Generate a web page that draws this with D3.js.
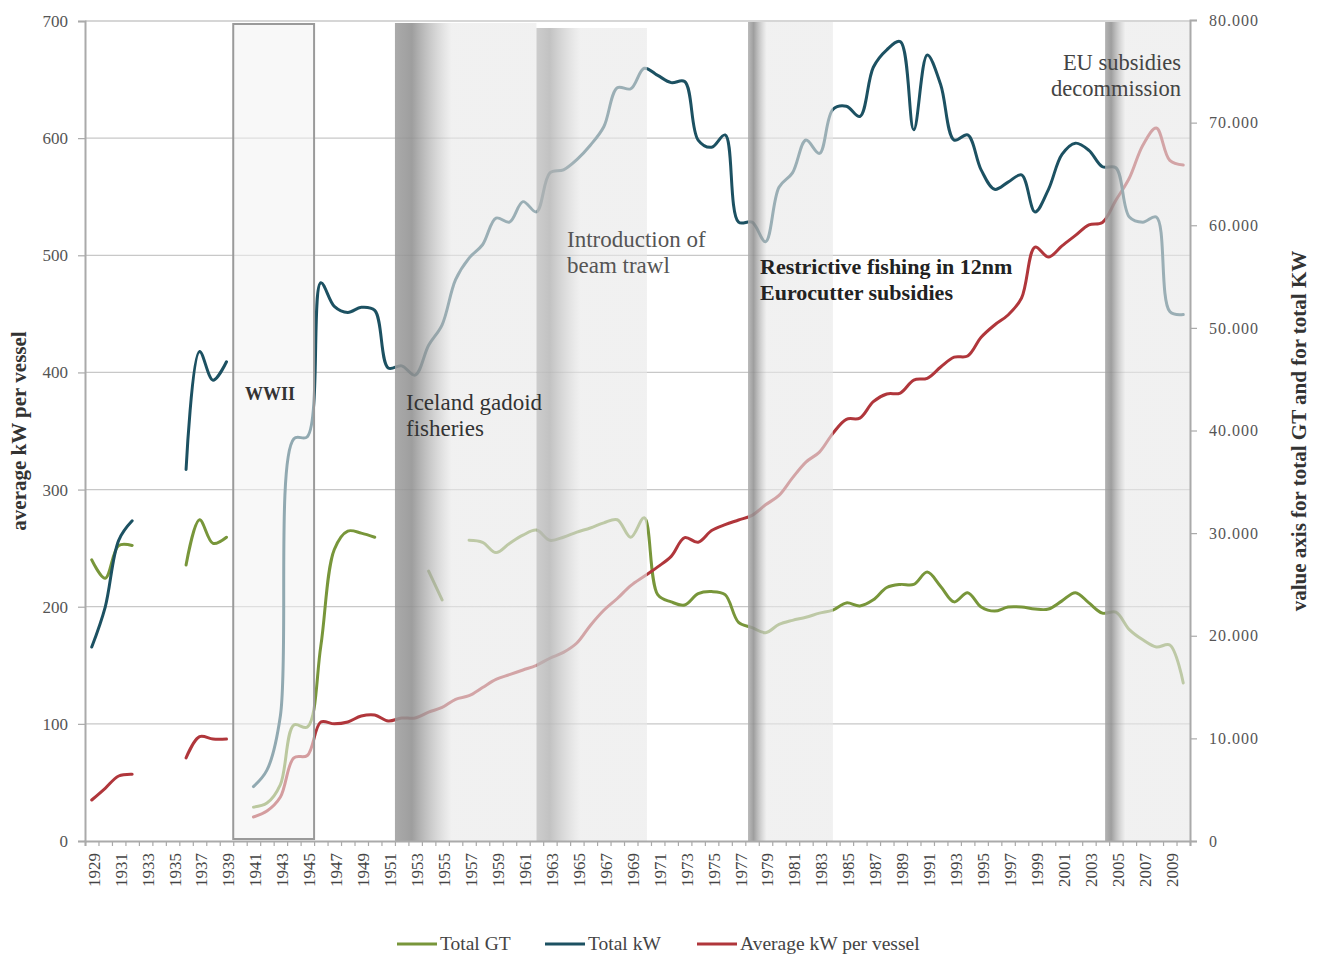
<!DOCTYPE html>
<html>
<head>
<meta charset="utf-8">
<script src="https://cdn.jsdelivr.net/npm/d3@7"></script>
<style>
body { margin: 0; background: #fff; }
svg text { font-family: "Liberation Serif", "DejaVu Serif", serif; }
</style>
</head>
<body>
<div id="chart"></div>
<script>
// years 1929 - 2010, null = no data
var years = d3.range(1929, 2011);

// total GT, thousands (right axis)
var totalGT = [27.4, 25.6, 28.8, 28.8, null, null, null, 26.9, 31.3, 29.0,
  29.6, null, 3.3, 3.7, 5.5, 11.3, 11.1, 19.0, 28.4, 30.2,
  30.0, 29.6, null, null, null, 26.3, 23.5, null, 29.3, 29.1,
  28.1, 29.0, 29.8, 30.3, 29.3, 29.6, 30.1, 30.5, 31.0, 31.3,
  29.6, 31.5, 24.0, 23.3, 23.0, 24.1, 24.3, 24.0, 21.3, 20.8,
  20.3, 21.1, 21.5, 21.8, 22.2, 22.5, 23.2, 22.9, 23.5, 24.7,
  25.0, 25.0, 26.2, 24.8, 23.3, 24.2, 22.8, 22.4, 22.8, 22.8,
  22.6, 22.6, 23.4, 24.2, 23.2, 22.2, 22.3, 20.6, 19.6, 18.9,
  19.1, 15.4];

// total kW, thousands (right axis)
var totalKW = [18.9, 22.8, 29.3, 31.2, null, null, null, 36.2, 47.7, 44.9,
  46.7, null, 5.3, 6.9, 12.2, 39.2, 39.4, 54.4, 52.1, 51.5,
  52.0, 51.7, 46.1, 46.3, 45.4, 48.3, 50.3, 54.7, 56.8, 58.1,
  60.7, 60.3, 62.3, 61.3, 65.1, 65.4, 66.4, 67.8, 69.6, 73.4,
  73.3, 75.3, 74.6, 73.9, 74.0, 68.3, 67.6, 68.8, 60.3, 60.3,
  58.4, 63.7, 65.1, 68.3, 67.0, 71.3, 71.6, 70.6, 75.4, 77.1,
  77.9, 69.3, 76.6, 73.7, 68.3, 68.8, 65.4, 63.5, 64.2, 64.9,
  61.3, 63.5, 66.9, 68.0, 67.3, 65.7, 65.6, 60.8, 60.3, 60.8,
  51.6, 51.3];

// average kW per vessel (left axis)
var avgKW = [35, 45, 55.5, 57, null, null, null, 71, 89, 87,
  87, null, 20.5, 25.6, 37.6, 71, 73, 101.6, 100, 101.6,
  106.7, 107.6, 102.4, 105, 105, 110, 114, 121, 124, 131,
  138, 142, 146, 150, 156, 161, 169, 184, 197, 207,
  218, 226, 234, 243, 259, 255, 265, 270, 274, 278,
  287, 295, 310, 323.5, 332, 348, 360, 361, 375, 381.6,
  382.4, 393.5, 395, 404.6, 413, 414, 430, 440.5, 449, 463.5,
  507, 498.5, 508, 517, 526, 528, 547, 566, 594, 608.7,
  581, 577];

var leftTicks = [0, 100, 200, 300, 400, 500, 600, 700];
var rightTicks = [0, 10, 20, 30, 40, 50, 60, 70, 80];
var seriesNames = ["Total GT", "Total kW", "Average kW per vessel"];

// shaded periods, in years
var periodStart = [1952, 1962.5, 1978.2, 2004.7];
var periodEnd = [1962.5, 1970.7, 1984.5, 2011];
var warStart = 1940, warEnd = 1946;

var width = 1317, height = 956;
var plotL = 85, plotR = 1190, plotT = 21, plotB = 841;

var colGT = "#78963a", colKW = "#1c5162", colAvg = "#b0363b";

var svg = d3.select("#chart").append("svg").attr("width", width).attr("height", height);

var x = d3.scaleLinear().domain([1929, 2011]).range([plotL, plotR]);
var xb = d3.scaleBand().domain(years).range([plotL, plotR]);
var yL = d3.scaleLinear().domain([0, 700]).range([plotB, plotT]);
var yR = d3.scaleLinear().domain([0, 80]).range([plotB, plotT - 1]);

// gridlines
svg.append("g").selectAll("line")
  .data(leftTicks.slice(1))
  .join("line")
  .attr("x1", plotL).attr("x2", plotR)
  .attr("y1", d => yL(d)).attr("y2", d => yL(d))
  .attr("stroke", "#c8c8c8").attr("stroke-width", 1.3)

function drawSeries(values, scale, color) {
  var line = d3.line()
    .defined(d => d.v != null)
    .x(d => x(d.year + 0.5))
    .y(d => scale(d.v))
    .curve(d3.curveCatmullRom.alpha(0.5))
  svg.append("path")
    .datum(years.map((yr, i) => ({year: yr, v: values[i]})))
    .attr("d", line)
    .attr("fill", "none")
    .attr("stroke", color)
    .attr("stroke-width", 3)
    .attr("stroke-linejoin", "round")
    .attr("stroke-linecap", "round")
}

drawSeries(totalGT, yR, colGT)
drawSeries(avgKW, yL, colAvg)
drawSeries(totalKW, yR, colKW)

// period overlays
var defs = svg.append("defs");
var bandStyle = [
  {top: 23, dark: 0.4, c0: 155, c1: 145},
  {top: 28, dark: 0.4, c0: 196, c1: 186},
  {top: 22, dark: 0.22, c0: 175, c1: 145},
  {top: 22, dark: 0.24, c0: 165, c1: 145}
];
bandStyle.forEach((b, i) => {
  var g = defs.append("linearGradient").attr("id", "band" + i)
    .attr("x1", 0).attr("x2", 1).attr("y1", 0).attr("y2", 0);
  var grey = c => "rgb(" + c + "," + c + "," + c + ")";
  g.append("stop").attr("offset", 0).attr("stop-color", grey(b.c0)).attr("stop-opacity", 0.85);
  g.append("stop").attr("offset", b.dark * 0.3).attr("stop-color", grey(b.c1)).attr("stop-opacity", 0.88);
  g.append("stop").attr("offset", b.dark).attr("stop-color", grey(232)).attr("stop-opacity", 0.62);
  g.append("stop").attr("offset", 1).attr("stop-color", grey(232)).attr("stop-opacity", 0.62);
});

svg.append("g").selectAll("rect")
  .data(periodStart)
  .join("rect")
  .attr("x", d => x(d))
  .attr("y", (d, i) => bandStyle[i].top)
  .attr("width", (d, i) => x(periodEnd[i]) - x(d))
  .attr("height", (d, i) => plotB - bandStyle[i].top)
  .attr("fill", (d, i) => "url(#band" + i + ")")

svg.append("rect")
  .attr("x", x(warStart)).attr("y", 24)
  .attr("width", x(warEnd) - x(warStart)).attr("height", 815)
  .attr("fill", "rgb(242,242,242)").attr("fill-opacity", 0.55)
  .attr("stroke", "#9a9a9a").attr("stroke-width", 2)

// axes
var axisL = svg.append("g").attr("transform", "translate(" + plotL + ",0)")
  .call(d3.axisLeft(yL).tickValues(leftTicks).tickSize(7).tickPadding(10));
var axisR = svg.append("g").attr("transform", "translate(" + plotR + ",0)")
  .call(d3.axisRight(yR).tickValues(rightTicks).tickSize(7).tickPadding(12)
    .tickFormat(d => d3.format(",")(d * 1000).replace(/,/g, ".")));
var axisB = svg.append("g").attr("transform", "translate(0," + plotB + ")")
  .call(d3.axisBottom(x).tickValues(d3.range(1929, 2012)).tickSize(5).tickFormat(""));
var axisLabels = svg.append("g").attr("transform", "translate(0," + plotB + ")")
  .call(d3.axisBottom(xb).tickValues(years.filter(d => d % 2 == 1)).tickSize(0).tickPadding(0));

[axisL, axisR, axisB, axisLabels].forEach(a => {
  a.select(".domain").attr("stroke", "#aaa").attr("stroke-width", 2);
  a.selectAll(".tick line").attr("stroke", "#aaa").attr("stroke-width", 1.2);
});
axisLabels.select(".domain").remove();
axisL.selectAll("text").attr("font-size", 17).attr("fill", "#555").style("font-family", "Liberation Serif");
axisR.selectAll("text").attr("font-size", 16).attr("fill", "#555").attr("letter-spacing", 1).style("font-family", "Liberation Serif");
axisLabels.selectAll("text")
  .attr("font-size", 17).attr("fill", "#444")
  .attr("text-anchor", "end")
  .attr("transform", "translate(2,12) rotate(-90)")
  .attr("x", 0).attr("y", 0).attr("dy", "0.35em")
  .style("font-family", "Liberation Serif");

// axis titles
svg.append("text")
  .attr("transform", "translate(26,431) rotate(-90)")
  .attr("text-anchor", "middle").attr("font-size", 21).attr("font-weight", "bold").attr("fill", "#333")
  .text("average kW per vessel")
svg.append("text")
  .attr("transform", "translate(1306,431) rotate(-90)")
  .attr("text-anchor", "middle").attr("font-size", 21).attr("font-weight", "bold").attr("fill", "#333")
  .text("value axis for total GT and for total KW")

// annotations
function note(lines, px, py, opts) {
  var t = svg.append("text")
    .attr("x", px).attr("y", py)
    .attr("font-size", opts.size).attr("fill", opts.color)
    .attr("font-weight", opts.bold ? "bold" : "normal")
    .attr("text-anchor", opts.anchor || "start");
  lines.forEach((s, i) => t.append("tspan").attr("x", px).attr("dy", i ? 26 : 0).text(s));
}
note(["WWII"], 245, 400, {size: 18, color: "#333", bold: true});
note(["Iceland gadoid", "fisheries"], 406, 410, {size: 23, color: "#333"});
note(["Introduction of", "beam trawl"], 567, 247, {size: 23, color: "#555"});
note(["Restrictive fishing in 12nm", "Eurocutter subsidies"], 760, 274, {size: 22, color: "#222", bold: true});
note(["EU subsidies", "decommission"], 1181, 70, {size: 22.5, color: "#444", anchor: "end"});

// legend
var legendX = [397, 545, 697];
var legendCol = [colGT, colKW, colAvg];
var leg = svg.append("g").selectAll("g")
  .data(seriesNames)
  .join("g")
  .attr("transform", (d, i) => "translate(" + legendX[i] + ",944)");
leg.append("line").attr("x1", 0).attr("x2", 40).attr("stroke", (d, i) => legendCol[i]).attr("stroke-width", 3);
leg.append("text").attr("x", 43).attr("y", 6).attr("font-size", 19.5).attr("fill", "#444").text(d => d);
</script>
</body>
</html>
